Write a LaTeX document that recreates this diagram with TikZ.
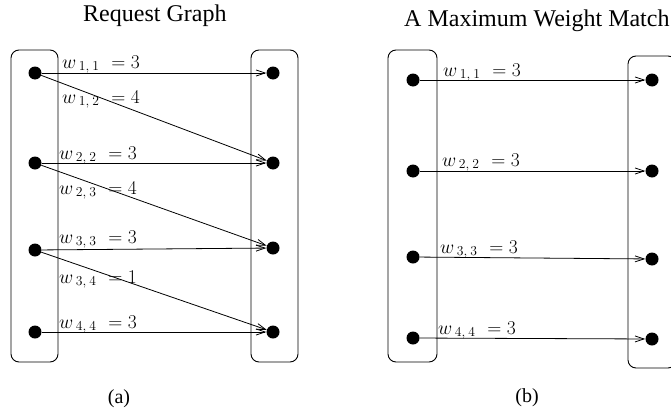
\RequirePackage{fix-cm}
\documentclass[tikz,border=0pt]{standalone}
\usepackage[no-math]{fontspec}
\setmainfont{Liberation Serif}
\usetikzlibrary{arrows.meta}
\newcommand{\wl}[3]{$w_{\mkern4mu #1,\mkern4mu #2}\mkern6mu=#3$}
\tikzset{
  dot/.style={circle, fill=black, inner sep=0pt, minimum size=13pt},
  grp/.style={draw, rounded corners=8pt, line width=0.9pt, inner sep=0pt},
  arr/.style={-{Straight Barb[length=9pt,width=6pt,line width=0.8pt]}, line width=0.8pt},
  wlab/.style={anchor=base west, inner sep=0pt, font=\fontsize{19.5}{23}\selectfont},
  ttl/.style={anchor=base west, inner sep=0pt, font=\fontsize{24}{28}\selectfont},
  captext/.style={inner sep=0pt, font=\fontsize{20}{24}\selectfont}
}
\begin{document}
\begin{tikzpicture}[x=1pt,y=-1pt]
\useasboundingbox (0,0) rectangle (671,415);
\clip (0,0) rectangle (671,415);
% titles
\node[ttl] (ta) at (83,21) {Request Graph};
\node[ttl] (tb) at (404,26) {A Maximum Weight Match};
% boxes (a)
\node[grp, minimum width=47pt, minimum height=312pt] (La) at (34.5,206) {};
\node[grp, minimum width=47pt, minimum height=312pt] (Ra) at (274.5,206) {};
% boxes (b)
\node[grp, minimum width=49pt, minimum height=312pt] (Lb) at (412.5,206) {};
\node[grp, minimum width=48pt, minimum height=312pt] (Rb) at (652,212) {};
% dots (a)
\node[dot] (a1) at (35,73) {};
\node[dot] (a2) at (35,163) {};
\node[dot] (a3) at (35,250) {};
\node[dot] (a4) at (35,332) {};
\node[dot] (b1) at (273,73) {};
\node[dot] (b2) at (273,163) {};
\node[dot] (b3) at (273,248) {};
\node[dot] (b4) at (273,332) {};
% dots (b)
\node[dot] (c1) at (413,80) {};
\node[dot] (c2) at (413,171) {};
\node[dot] (c3) at (413,257) {};
\node[dot] (c4) at (413,338) {};
\node[dot] (d1) at (652,80) {};
\node[dot] (d2) at (652,171) {};
\node[dot] (d3) at (652,259) {};
\node[dot] (d4) at (652,339) {};
% arrows (a)
\draw[arr] (a1) -- (b1);
\draw[arr] (a1) -- (b2);
\draw[arr] (a2) -- (b2);
\draw[arr] (a2) -- (b3);
\draw[arr] (a3) -- (b3);
\draw[arr] (a3) -- (b4);
\draw[arr] (a4) -- (b4);
% arrows (b)
\draw[arr] (c1) -- (d1);
\draw[arr] (c2) -- (d2);
\draw[arr] (c3) -- (d3);
\draw[arr] (c4) -- (d4);
% labels (a)
\node[wlab] (l11) at (62,68) {\wl{1}{1}{3}};
\node[wlab] (l12) at (62,103) {\wl{1}{2}{4}};
\node[wlab] (l22) at (59,159) {\wl{2}{2}{3}};
\node[wlab] (l23) at (59,194) {\wl{2}{3}{4}};
\node[wlab] (l33) at (59,243) {\wl{3}{3}{3}};
\node[wlab] (l34) at (59,283) {\wl{3}{4}{1}};
\node[wlab] (l44) at (59,328) {\wl{4}{4}{3}};
% labels (b)
\node[wlab] (m11) at (443,76) {\wl{1}{1}{3}};
\node[wlab] (m22) at (442,166) {\wl{2}{2}{3}};
\node[wlab] (m33) at (440,253) {\wl{3}{3}{3}};
\node[wlab] (m44) at (438,334) {\wl{4}{4}{3}};
% captions
\node[captext] (ca) at (119,399) {(a)};
\node[captext] (cb) at (527,398) {(b)};
\end{tikzpicture}
\end{document}
